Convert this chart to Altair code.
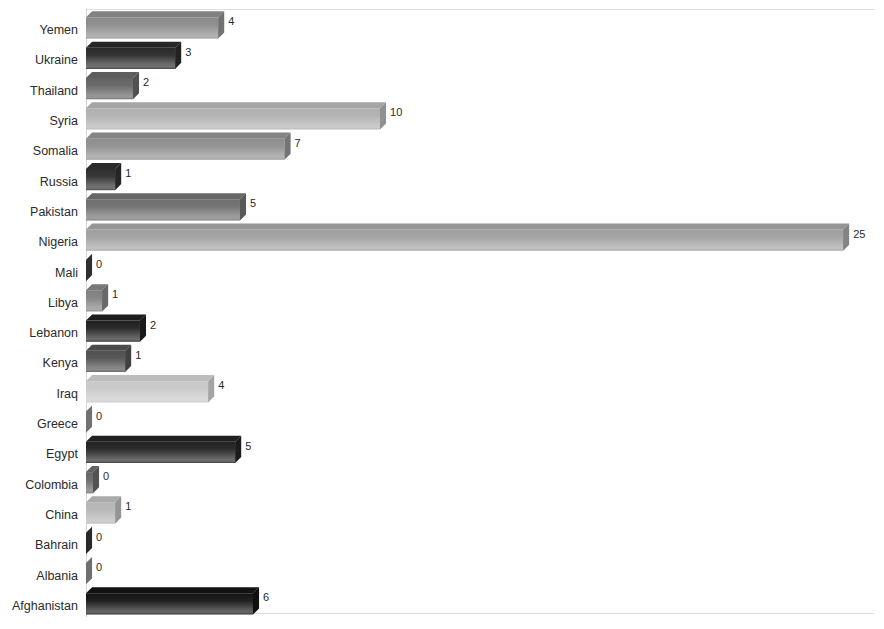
import altair as alt
import pandas as pd

# ---- data ----
countries = ["Afghanistan", "Albania", "Bahrain", "China", "Colombia", "Egypt",
             "Greece", "Iraq", "Kenya", "Lebanon", "Libya", "Mali", "Nigeria",
             "Pakistan", "Russia", "Somalia", "Syria", "Thailand", "Ukraine", "Yemen"]
values = [5.51, 0.0, 0.0, 0.96, 0.23, 4.92, 0.0, 4.03, 1.29, 1.78, 0.53, 0.0,
          24.98, 5.08, 0.96, 6.55, 9.70, 1.55, 2.94, 4.36]

# ---- style ----
palette = ["#141414", "#888888", "#333333", "#b5b5b5", "#666666", "#222222",
           "#8a8a8a", "#c8c8c8", "#505050", "#1f1f1f", "#808080", "#3a3a3a",
           "#a0a0a0", "#6e6e6e", "#2e2e2e", "#8e8e8e", "#b0b0b0", "#636363",
           "#2a2a2a", "#8a8a8a"]
HALF = 0.35      # half height of front face (row units)
DX = 0.2         # 3D depth in x units
DY = 0.2         # 3D depth in row units
FONT = "Liberation Sans"

def clip01(t):
    return max(0.0, min(1.0, t))

front_rows, top_rows, right_rows = [], [], []
for i, (c, v) in enumerate(zip(countries, values)):
    B, T = i - HALF, i + HALF
    front_rows.append({"country": c, "r": i, "x0": 0.0, "v": v, "B": B, "T": T,
                       "xl": v + DX, "yl": i + 0.25})
    for x in sorted([0.0, DX, v, v + DX]):
        top_rows.append({"country": c, "x": x,
                         "ylo": T + DY * clip01((x - v) / DX),
                         "yhi": T + DY * clip01(x / DX)})
    right_rows.append({"country": c, "x": v, "ylo": B, "yhi": T})
    right_rows.append({"country": c, "x": v + DX, "ylo": B + DY, "yhi": T + DY})

front = pd.DataFrame(front_rows)
top = pd.DataFrame(top_rows)
right = pd.DataFrame(right_rows)

xs = alt.Scale(domain=[0, 26], nice=False, zero=False)
ys = alt.Scale(domain=[-0.43, 19.66], nice=False, zero=False)
cs = alt.Scale(domain=countries, range=palette)

y_axis = alt.Axis(labels=False, ticks=False, domain=True, domainColor="#d4d4d4",
                  grid=True, gridColor="#dedede", values=[19.64, -0.31], title=None)
x_axis = alt.Axis(labels=False, ticks=False, domain=True, domainColor="#d4d4d4",
                  grid=False, title=None)

X = lambda f: alt.X(f, type="quantitative", scale=xs, axis=x_axis)
Y = lambda f: alt.Y(f, type="quantitative", scale=ys, axis=y_axis)

front_face = alt.Chart(front).mark_rect().encode(
    x=X("x0"), x2="v:Q",
    y=Y("B"), y2="T:Q",
    color=alt.Color("country:N", scale=cs, legend=None),
)

shine = alt.Gradient(
    gradient="linear", x1=0, y1=0, x2=0, y2=1,
    stops=[
        alt.GradientStop(color="rgba(255,255,255,0)", offset=0),
        alt.GradientStop(color="rgba(255,255,255,0.05)", offset=0.35),
        alt.GradientStop(color="rgba(255,255,255,0.30)", offset=0.78),
        alt.GradientStop(color="rgba(255,255,255,0.34)", offset=0.9),
        alt.GradientStop(color="rgba(255,255,255,0.14)", offset=1),
    ],
)
front_shine = alt.Chart(front).mark_rect(fill=shine).encode(
    x=X("x0"), x2="v:Q",
    y=Y("B"), y2="T:Q",
)

top_face = alt.Chart(top).mark_area(orient="vertical", interpolate="linear").encode(
    x=X("x"),
    y=Y("ylo"), y2="yhi:Q",
    detail="country:N",
    color=alt.Color("country:N", scale=cs, legend=None),
)
top_shade = alt.Chart(top).mark_area(orient="vertical", color="black", opacity=0.06).encode(
    x=X("x"),
    y=Y("ylo"), y2="yhi:Q",
    detail="country:N",
)

right_face = alt.Chart(right).mark_area(orient="vertical").encode(
    x=X("x"),
    y=Y("ylo"), y2="yhi:Q",
    detail="country:N",
    color=alt.Color("country:N", scale=cs, legend=None),
)
right_shade = alt.Chart(right).mark_area(orient="vertical", color="black", opacity=0.18).encode(
    x=X("x"),
    y=Y("ylo"), y2="yhi:Q",
    detail="country:N",
)

value_labels = alt.Chart(front).mark_text(
    align="left", baseline="middle", dx=4, dy=2, font=FONT, fontSize=11, color="#2a2a2a"
).encode(
    x=X("xl"),
    y=Y("yl"),
    text=alt.Text("v:Q", format=".0f"),
)

cat_labels = alt.Chart(front).mark_text(
    align="right", baseline="middle", dx=-8, dy=2, font=FONT, fontSize=12.5, color="#2a2a2a"
).encode(
    x=X("x0"),
    y=Y("r"),
    text="country:N",
)

chart = alt.layer(
    front_face, front_shine, top_face, top_shade, right_face, right_shade,
    value_labels, cat_labels
).properties(
    width=788, height=609,
    autosize=alt.AutoSizeParams(type="none"),
    padding={"left": 78, "top": 0, "right": 2, "bottom": 0},
).configure_view(stroke=None)

chart.save("out.html", embed_options={"renderer": "svg", "actions": False})
